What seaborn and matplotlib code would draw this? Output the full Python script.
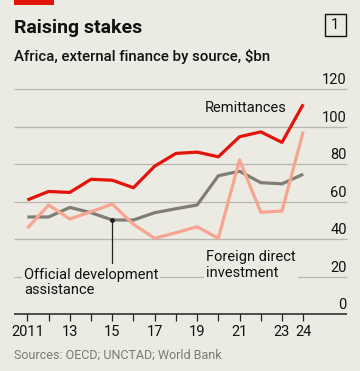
import matplotlib
matplotlib.use("Agg")
import matplotlib.pyplot as plt
from matplotlib.patches import Rectangle
import pandas as pd
import seaborn as sns

# Chart data ($bn)
years = list(range(2011, 2025))
remittances = [61, 65.5, 65, 72, 71.5, 67.5, 79, 85.8, 86.5, 84, 94.7, 97.3, 91.7, 112]
oda = [51.9, 51.9, 57, 54.2, 50.3, 50.3, 54.2, 56.3, 58.3, 73.9, 76.3, 70.2, 69.6, 74.7]
fdi = [45.9, 58.3, 50.8, 54.7, 58.8, 48, 40.5, 43.5, 46.7, 40.5, 82.3, 54.4, 55.1, 97.4]
series_names = ["Remittances", "Official development assistance", "Foreign direct investment"]
tick_years = [2011, 2013, 2015, 2017, 2019, 2021, 2023, 2024]
tick_labels = ["2011", "13", "15", "17", "19", "21", "23", "24"]
y_ticks = [0, 20, 40, 60, 80, 100, 120]

bg = "#ECEBE3"
red = "#E3120B"
grey = "#7F7D76"
salmon = "#F7A590"
grid = "#B9B8B0"

df = pd.DataFrame({
    "year": years * 3,
    "value": remittances + oda + fdi,
    "source": [series_names[0]] * len(years) + [series_names[1]] * len(years) + [series_names[2]] * len(years),
})

sns.set_theme(style="white")
plt.rcParams["font.family"] = ["Roboto", "DejaVu Sans"]

fig = plt.figure(figsize=(3.6, 3.71), dpi=100, facecolor=bg)
ax = fig.add_axes([14 / 360, 1 - 314.3 / 371, (346.7 - 14) / 360, (314.3 - 89.3) / 371])
ax.set_facecolor(bg)

# gridlines drawn by hand so labels can sit on top
for v in y_ticks[1:]:
    ax.axhline(v, color=grid, lw=0.9, zorder=0)
ax.axhline(0, color="#222222", lw=1.1, zorder=3)

sns.lineplot(data=df, x="year", y="value", hue="source", hue_order=[series_names[1], series_names[2], series_names[0]],
             palette={series_names[0]: red, series_names[1]: grey, series_names[2]: salmon},
             lw=2.3, legend=False, ax=ax, zorder=4)
for line in ax.lines:
    line.set_clip_on(False)
    line.set_solid_capstyle("butt")

ax.set_xlim(2010.37, 2026.05)
ax.set_ylim(0, 120)
for s in ax.spines.values():
    s.set_visible(False)
ax.set_xlabel("")
ax.set_ylabel("")
ax.set_yticks([])
ax.set_xticks(years, minor=True)
ax.set_xticks(tick_years)
ax.set_xticklabels(tick_labels, fontsize=10.5, color="#111111")
ax.tick_params(axis="x", which="both", direction="out", length=5, width=0.9, color="#222222", pad=3, bottom=True)

# y labels sit above gridlines at the right
for v in y_ticks:
    ax.text(1.0, v + 1.2, str(v), transform=ax.get_yaxis_transform(), ha="right", va="bottom",
            fontsize=10.5, color="#111111")

# series labels
box = dict(facecolor=bg, edgecolor="none", pad=1.5)
ax.text(2021.3, 110, series_names[0], fontsize=10.5, color="#111111", ha="center", va="center", bbox=box)
ax.text(2019.42, 26.3, "Foreign direct\ninvestment", fontsize=10.5, color="#111111", ha="left", va="center",
        linespacing=1.15, bbox=box)
ax.text(2010.84, 17, "Official development\nassistance", fontsize=10.5, color="#111111", ha="left", va="center",
        linespacing=1.15, bbox=box)
ax.plot([2015, 2015], [50.3, 27.5], color="#222222", lw=0.9, zorder=5)
ax.plot([2015], [50.3], "o", color="#222222", ms=2.5, zorder=5)

# header
fig.patches.append(Rectangle((14 / 360, 1 - 5 / 371), 40 / 360, 5 / 371, transform=fig.transFigure,
                             facecolor=red, edgecolor="none"))
fig.text(14 / 360, 1 - 28 / 371, "Raising stakes", fontsize=14, fontweight="bold", color="#111111", va="center")
fig.text(14 / 360, 1 - 57 / 371, "Africa, external finance by source, $bn", fontsize=10.8, fontweight="medium",
         color="#111111", va="center")
fig.patches.append(Rectangle((324.5 / 360, 1 - 36 / 371), 21.5 / 360, 22 / 371, transform=fig.transFigure,
                             facecolor="none", edgecolor="#111111", lw=1.0))
fig.text(335.2 / 360, 1 - 25 / 371, "1", fontsize=10.5, color="#111111", ha="center", va="center")
fig.text(14 / 360, 1 - 355 / 371, "Sources: OECD; UNCTAD; World Bank", fontsize=9, color="#7A7A74", va="center")

fig.savefig("out.png", dpi=100, facecolor=bg)
